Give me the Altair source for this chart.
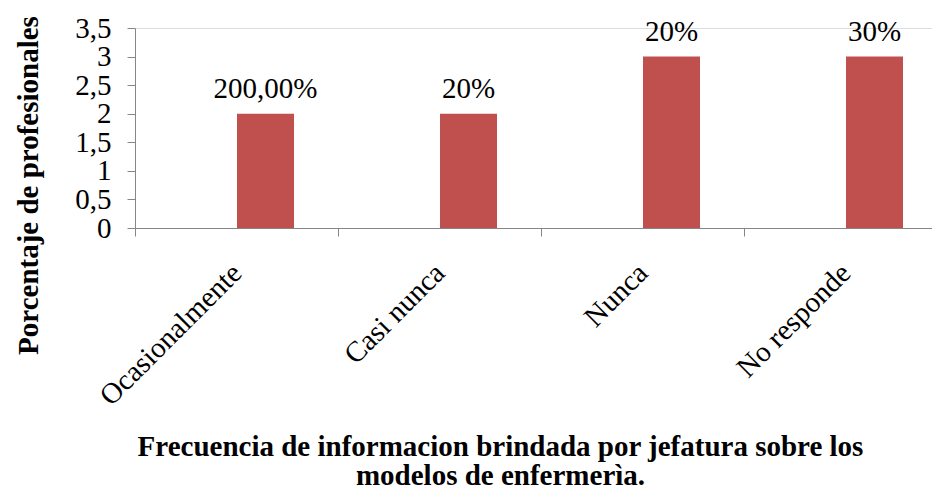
import altair as alt
import pandas as pd

categories = ["Ocasionalmente", "Casi nunca", "Nunca", "No responde"]
values = [2, 2, 3, 3]
labels = ["200,00%", "20%", "20%", "30%"]
y_ticks = [0, 0.5, 1, 1.5, 2, 2.5, 3, 3.5]

df = pd.DataFrame({"cat": categories, "val": values, "lab": labels})

FONT = "Times New Roman, Liberation Serif, serif"
GRAY = "#868686"

x = alt.X(
    "cat:N",
    sort=categories,
    scale=alt.Scale(paddingInner=0, paddingOuter=0, range=[0, 812]),
    axis=alt.Axis(
        title=["Frecuencia de informacion brindada por jefatura sobre los",
               "modelos de enfermerìa."],
        titleFont=FONT, titleFontSize=29, titleFontWeight="bold",
        titleColor="black", titleX=365, titleY=227,
        titleAlign="center", titleBaseline="alphabetic", titleLineHeight=29,
        labelFont=FONT, labelFontSize=29, labelColor="black",
        labelAngle=-45, labelAlign="right", labelBaseline="middle",
        labelPadding=32, labelLimit=0, tickBand="extent", tickSize=8,
        tickColor=GRAY, domainColor=GRAY, grid=False, labelOverlap=False,
    ),
)

y = alt.Y(
    "val:Q",
    scale=alt.Scale(domain=[0, 3.5], nice=False),
    axis=alt.Axis(
        title="Porcentaje de profesionales",
        titleFont=FONT, titleFontSize=29, titleFontWeight="bold",
        titleColor="black", titleX=-107, titleY=157, titleAngle=270,
        titleAlign="center", titleBaseline="middle",
        values=y_ticks,
        labelExpr="replace(toString(datum.value), '.', ',')",
        labelFont=FONT, labelFontSize=29, labelColor="black",
        labelPadding=16, tickSize=8, tickColor=GRAY, domainColor=GRAY,
        grid=False, labelOverlap=False, labelBaseline="middle",
    ),
)

bars = alt.Chart(df).mark_bar(size=57, xOffset=29, color="#C0504D").encode(x=x, y=y)
text = alt.Chart(df).mark_text(
    font=FONT, fontSize=29, color="black", dx=29, dy=-10, baseline="bottom"
).encode(x=x, y=y, text="lab:N")

chart = (
    alt.layer(bars, text)
    .properties(
        width=797, height=200,
        autosize=alt.AutoSizeParams(type="none"),
        padding={"left": 127, "top": 20, "right": 0, "bottom": 257},
    )
    .configure_view(stroke=None)
    .configure(background="white")
)

chart.save("out.html", embed_options={"renderer": "svg", "actions": False})
